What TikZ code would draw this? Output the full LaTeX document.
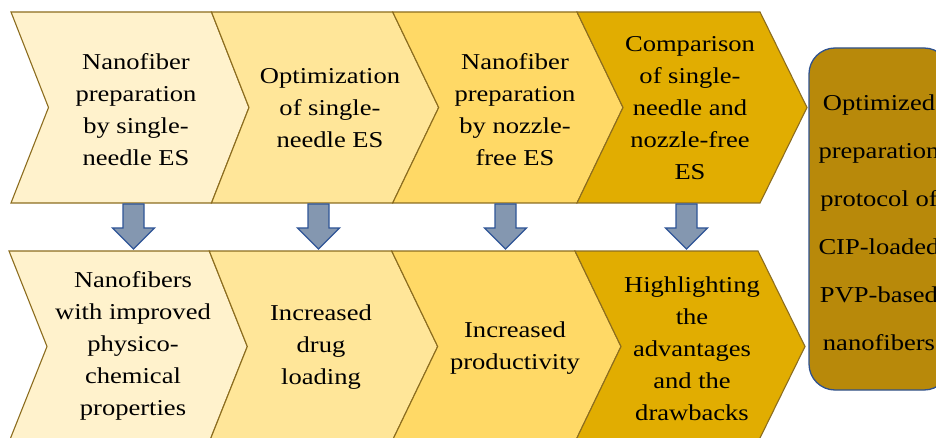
\documentclass[tikz,border=0pt]{standalone}
\usepackage{fontspec}
\setmainfont{Liberation Serif}
\definecolor{chevA}{HTML}{FFF2CC}
\definecolor{chevB}{HTML}{FFE699}
\definecolor{chevC}{HTML}{FFD966}
\definecolor{chevD}{HTML}{E1AD01}
\definecolor{goalfill}{HTML}{B8890A}
\definecolor{goalline}{HTML}{2F528F}
\definecolor{chevline}{HTML}{8C6D1F}
\definecolor{arrowfill}{HTML}{8497B0}
\definecolor{arrowline}{HTML}{2F5597}
\tikzset{
  chevron/.style={draw=chevline, line width=1.1pt, line join=miter},
  label/.style={align=center, inner sep=0pt, xscale=1.17,
    font=\fontsize{22.7}{32}\selectfont},
  goaltext/.style={align=center, inner sep=0pt, xscale=1.17,
    font=\fontsize{22.7}{48}\selectfont},
  downarrow/.style={fill=arrowfill, draw=arrowline, line width=1.3pt, line join=miter},
}
% chevron: #1 fill, #2 left x, #3 right x, #4 notch depth, #5 tip depth, #6 top y, #7 bottom y
\newcommand{\chevronshape}[7]{%
  \path[chevron, fill=#1] (#2,#6) -- (#3,#6) -- ({#3+#5},{(#6+#7)/2}) -- (#3,#7)
    -- (#2,#7) -- ({#2+#4},{(#6+#7)/2}) -- cycle;}
% block arrow pointing down, centred on x=#1
\newcommand{\blockarrow}[1]{%
  \path[downarrow] ({#1-10.5},204) -- ({#1+10.5},204) -- ({#1+10.5},228) -- ({#1+21},228)
    -- (#1,249) -- ({#1-21},228) -- ({#1-10.5},228) -- cycle;}
\begin{document}
\begin{tikzpicture}[x=1pt, y=-1pt]
\useasboundingbox (0,0) rectangle (936,438);
\begin{scope}
\clip (0,0) rectangle (936,438);
% upper row of process steps
\chevronshape{chevA}{11}{211.5}{37.5}{37.5}{12}{203}
\chevronshape{chevB}{211.5}{392.7}{37.5}{46}{12}{203}
\chevronshape{chevC}{392.7}{577}{46}{46}{12}{203}
\chevronshape{chevD}{577}{760}{46}{47}{12}{203}
% lower row of outcomes
\chevronshape{chevA}{9}{209.3}{38}{38}{251}{442}
\chevronshape{chevB}{209.3}{391.7}{38}{46}{251}{442}
\chevronshape{chevC}{391.7}{575}{46}{46}{251}{442}
\chevronshape{chevD}{575}{758}{46}{47}{251}{442}
% final outcome box
\draw[fill=goalfill, draw=goalline, line width=1.3pt, rounded corners=26pt]
  (809,48) rectangle (950,390);
\end{scope}
% arrows from steps to outcomes
\blockarrow{133.5}
\blockarrow{318.5}
\blockarrow{505.5}
\blockarrow{686.5}
% step texts
\node[label] (s1) at (136,110) {Nanofiber\\preparation\\by single-\\needle ES};
\node[label] (s2) at (330,108) {Optimization\\of single-\\needle ES};
\node[label] (s3) at (515,110) {Nanofiber\\preparation\\by nozzle-\\free ES};
\node[label] (s4) at (690,108.5) {Comparison\\of single-\\needle and\\nozzle-free\\ES};
% outcome texts
\node[label] (o1) at (133,346) {Nanofibers\\with improved\\physico-\\chemical\\properties};
\node[label] (o2) at (321,347) {Increased\\drug\\loading};
\node[label] (o3) at (515,348) {Increased\\productivity};
\node[label] (o4) at (692,349) {Highlighting\\the\\advantages\\and the\\drawbacks};
\begin{scope}
\clip (0,0) rectangle (936,438);
\node[goaltext] (g) at (879,223) {Optimized\\preparation\\protocol of\\CIP-loaded\\PVP-based\\nanofibers};
\end{scope}
\end{tikzpicture}
\end{document}
